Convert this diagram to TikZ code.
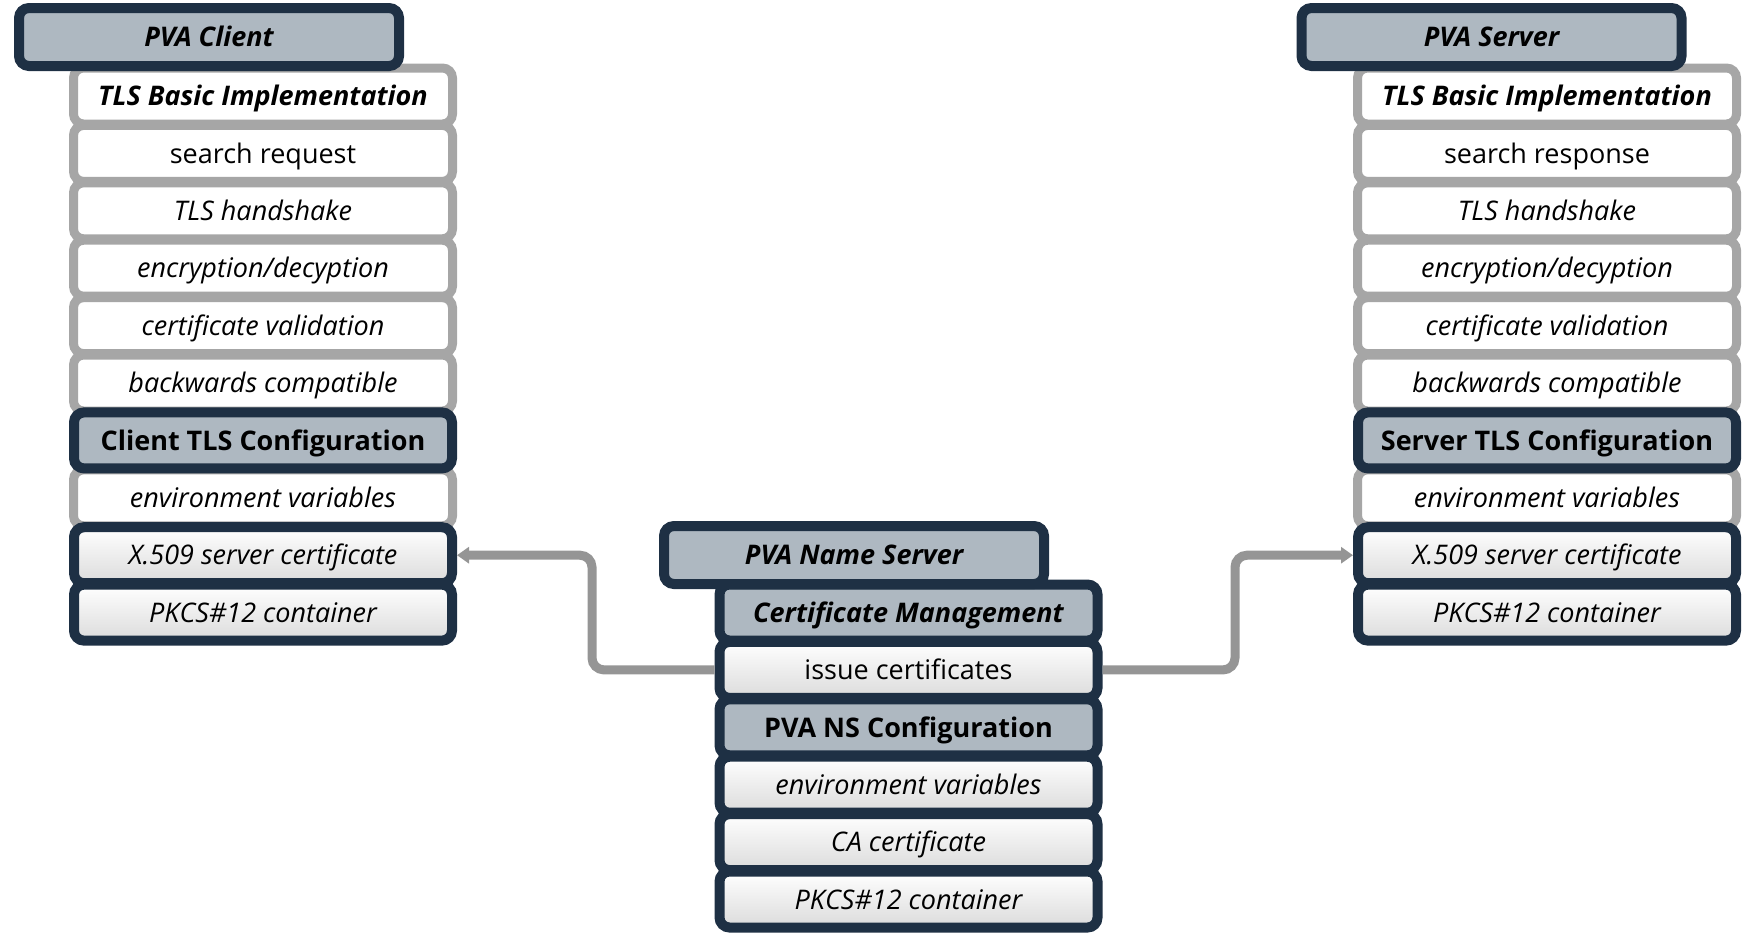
\documentclass[tikz,border=0pt]{standalone}
\usepackage{fontspec}
\setmainfont{Open Sans}
\usetikzlibrary{arrows.meta}
\definecolor{navy}{HTML}{1E3044}
\definecolor{slate}{HTML}{AEB8C1}
\definecolor{rim}{HTML}{A6A6A6}
\definecolor{wire}{HTML}{959595}

\begin{document}
\begin{tikzpicture}[x=0.5pt, y=-0.5pt,
                    every node/.style={rectangle, rounded corners=5pt, inner sep=0pt, align=center,
                                       text height=12.2pt, text depth=2.5pt,
                                       font=\fontsize{13.5}{16}\selectfont},
                    head_style/.style={draw=navy, line width=5pt, fill=slate, minimum width=190pt, minimum height=29pt,
                                       font=\fontsize{13.5}{16}\selectfont\bfseries\itshape},
                    plain_style/.style={draw=rim, line width=4.5pt, fill=white, minimum width=189.5pt, minimum height=28pt},
                    cert_style/.style={draw=navy, line width=5pt, top color=white, bottom color=black!14,
                                       minimum width=189pt, minimum height=28pt},
                    conf_style/.style={draw=navy, line width=5pt, fill=slate, minimum width=189pt, minimum height=28pt},
                    link_style/.style={draw=wire, line width=4.5pt, rounded corners=6pt,
                                       -{Triangle[length=6pt, width=8pt]}}]
                    \useasboundingbox (0,0) rectangle (1744,933);
                    % PVA Client
                    \node[plain_style] (cBasic) at (263, 96.0) {\bfseries\itshape TLS Basic Implementation};
                    \node[plain_style] (cSearch) at (263, 153.4) {search request};
                    \node[plain_style] (cShake) at (263, 210.8) {\itshape TLS handshake};
                    \node[plain_style] (cCrypt) at (263, 268.2) {\itshape encryption/decyption};
                    \node[plain_style] (cValid) at (263, 325.6) {\itshape certificate validation};
                    \node[plain_style] (cBack) at (263, 383.0) {\itshape backwards compatible};
                    \node[plain_style] (cEnv) at (263, 497.8) {\itshape environment variables};
                    \node[conf_style] (cConf) at (263, 440.4) {\bfseries Client TLS Configuration};
                    \node[cert_style] (cX509) at (263, 555.2) {\itshape X.509 server certificate};
                    \node[cert_style] (cPkcs) at (263, 612.6) {\itshape PKCS\#12 container};
                    \node[head_style] (cHead) at (209, 37) {PVA Client};
                    % PVA Server
                    \node[plain_style] (sBasic) at (1547, 96.0) {\bfseries\itshape TLS Basic Implementation};
                    \node[plain_style] (sSearch) at (1547, 153.4) {search response};
                    \node[plain_style] (sShake) at (1547, 210.8) {\itshape TLS handshake};
                    \node[plain_style] (sCrypt) at (1547, 268.2) {\itshape encryption/decyption};
                    \node[plain_style] (sValid) at (1547, 325.6) {\itshape certificate validation};
                    \node[plain_style] (sBack) at (1547, 383.0) {\itshape backwards compatible};
                    \node[plain_style] (sEnv) at (1547, 497.8) {\itshape environment variables};
                    \node[conf_style] (sConf) at (1547, 440.4) {\bfseries Server TLS Configuration};
                    \node[cert_style] (sX509) at (1547, 555.2) {\itshape X.509 server certificate};
                    \node[cert_style] (sPkcs) at (1547, 612.6) {\itshape PKCS\#12 container};
                    \node[head_style] (sHead) at (1491.5, 37) {PVA Server};
                    % PVA Name Server
                    \node[conf_style] (nMgmt) at (908.5, 612.5) {\bfseries\itshape Certificate Management};
                    \node[cert_style] (nIssue) at (908.5, 669.9) {issue certificates};
                    \node[conf_style] (nConf) at (908.5, 727.3) {\bfseries PVA NS Configuration};
                    \node[cert_style] (nEnv) at (908.5, 784.7) {\itshape environment variables};
                    \node[cert_style] (nCa) at (908.5, 842.1) {\itshape CA certificate};
                    \node[cert_style] (nPkcs) at (908.5, 899.5) {\itshape PKCS\#12 container};
                    \node[head_style] (nHead) at (854, 555) {PVA Name Server};
                    \coordinate (lBend) at (592, 0);
                    \coordinate (rBend) at (1235, 0);
                    \draw[link_style] (nIssue.west) -| (lBend |- cX509.east) -- (cX509.east);
                    \draw[link_style] (nIssue.east) -| (rBend |- sX509.west) -- (sX509.west);
                \end{tikzpicture}
\end{document}
